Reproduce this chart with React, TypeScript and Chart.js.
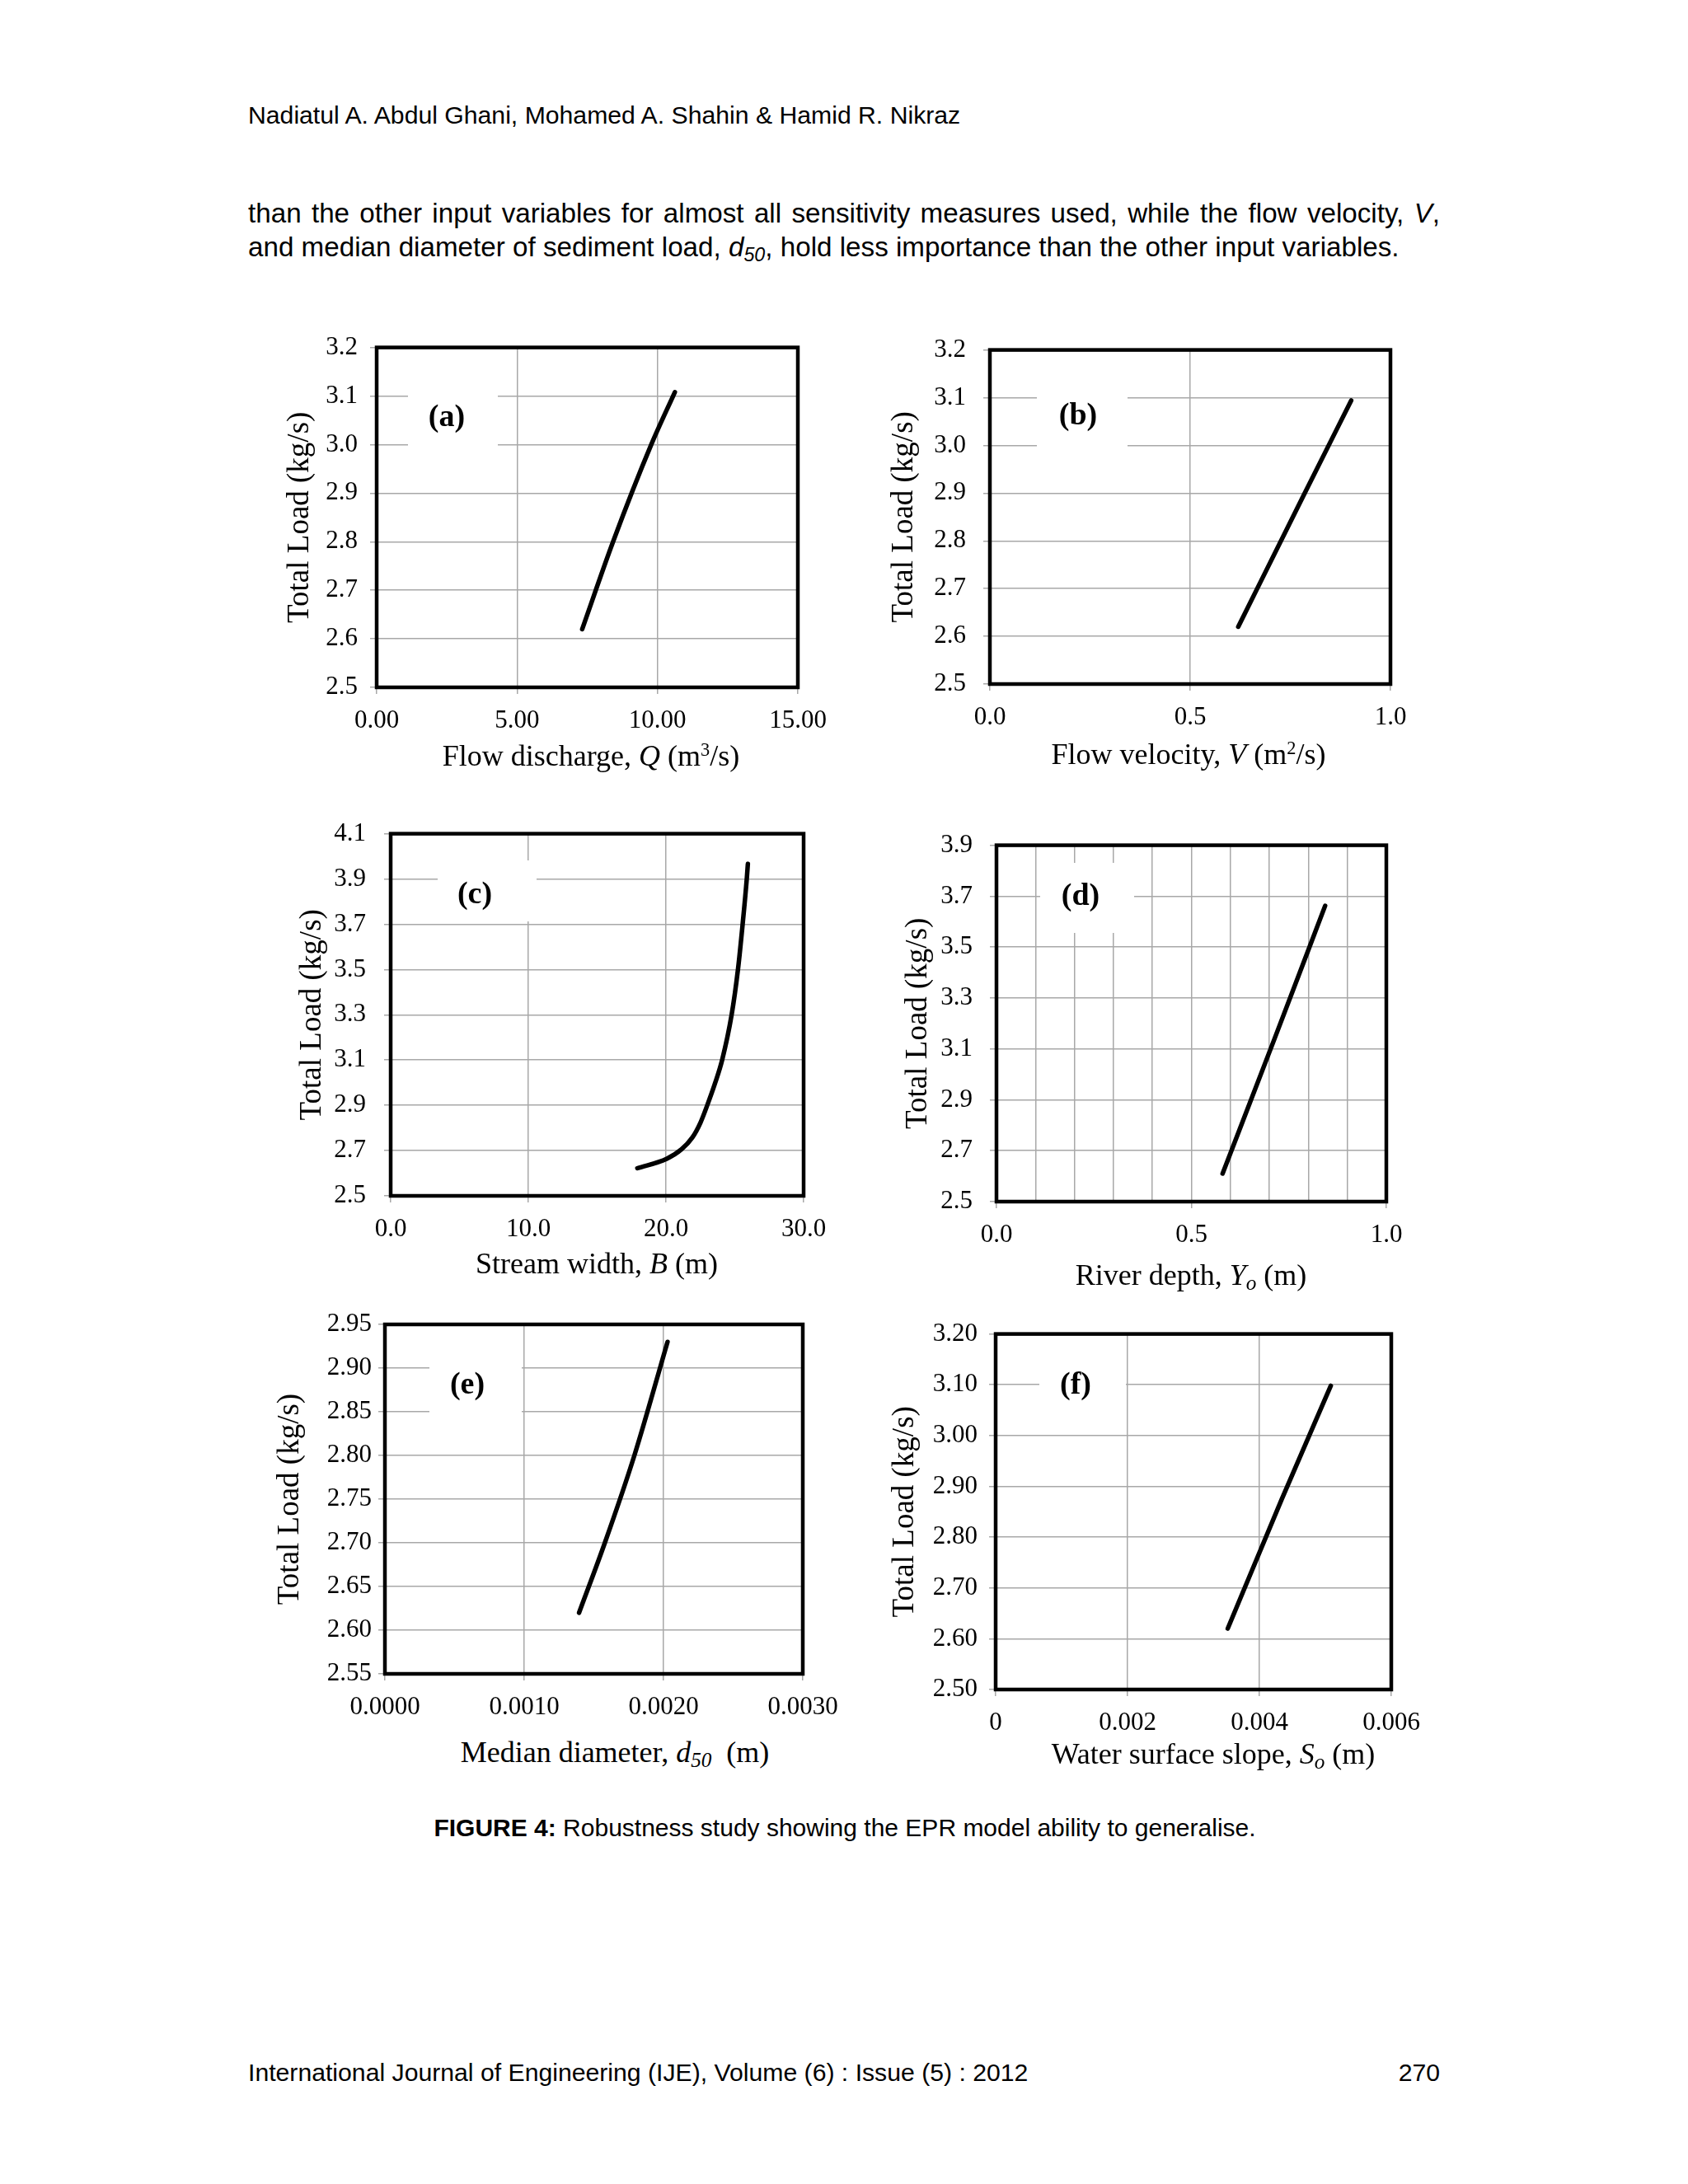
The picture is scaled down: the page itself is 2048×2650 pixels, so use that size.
import React, { useEffect, useRef } from "react";
import { Chart, registerables } from "chart.js";

Chart.register(...registerables);

// ---------- data ----------
// (a) Flow discharge Q (m3/s) vs Total load
const dischargeQ = [7.32, 8.42, 9.78, 10.62];
const loadA = [2.62, 2.8, 3.0, 3.108];
// (b) Flow velocity V
const velocityV = [0.62, 0.783, 0.902];
const loadB = [2.62, 2.895, 3.094];
// (c) Stream width B
const widthB = [17.92, 20.06, 21.12, 21.92, 22.51, 23.01, 23.58, 24.08, 24.77, 25.23, 25.57, 25.87, 25.95];
const loadC = [2.622, 2.664, 2.705, 2.758, 2.824, 2.902, 3.0, 3.1, 3.3, 3.5, 3.7, 3.9, 3.967];
// (d) River depth Yo
const depthYo = [0.58, 0.712, 0.843];
const loadD = [2.61, 3.135, 3.662];
// (e) Median diameter d50
const diameterD50 = [0.001394, 0.001579, 0.001791, 0.002029];
const loadE = [2.62, 2.7, 2.8, 2.93];
// (f) Water surface slope So
const slopeSo = [0.00352, 0.00434, 0.005083];
const loadF = [2.62, 2.875, 3.098];

// ---------- ticks ----------
const xTicksA = [0, 5, 10, 15];
const xLabelsA = ["0.00", "5.00", "10.00", "15.00"];
const yTicksA = [2.5, 2.6, 2.7, 2.8, 2.9, 3.0, 3.1, 3.2];
const yLabelsA = ["2.5", "2.6", "2.7", "2.8", "2.9", "3.0", "3.1", "3.2"];

const xTicksB = [0, 0.5, 1.0];
const xLabelsB = ["0.0", "0.5", "1.0"];
const yTicksB = [2.5, 2.6, 2.7, 2.8, 2.9, 3.0, 3.1, 3.2];
const yLabelsB = ["2.5", "2.6", "2.7", "2.8", "2.9", "3.0", "3.1", "3.2"];

const xTicksC = [0, 10, 20, 30];
const xLabelsC = ["0.0", "10.0", "20.0", "30.0"];
const yTicksC = [2.5, 2.7, 2.9, 3.1, 3.3, 3.5, 3.7, 3.9, 4.1];
const yLabelsC = ["2.5", "2.7", "2.9", "3.1", "3.3", "3.5", "3.7", "3.9", "4.1"];

const xTicksD = [0, 0.1, 0.2, 0.3, 0.4, 0.5, 0.6, 0.7, 0.8, 0.9, 1.0];
const xLabelsD = ["0.0", "", "", "", "", "0.5", "", "", "", "", "1.0"];
const yTicksD = [2.5, 2.7, 2.9, 3.1, 3.3, 3.5, 3.7, 3.9];
const yLabelsD = ["2.5", "2.7", "2.9", "3.1", "3.3", "3.5", "3.7", "3.9"];

const xTicksE = [0, 0.001, 0.002, 0.003];
const xLabelsE = ["0.0000", "0.0010", "0.0020", "0.0030"];
const yTicksE = [2.55, 2.6, 2.65, 2.7, 2.75, 2.8, 2.85, 2.9, 2.95];
const yLabelsE = ["2.55", "2.60", "2.65", "2.70", "2.75", "2.80", "2.85", "2.90", "2.95"];

const xTicksF = [0, 0.002, 0.004, 0.006];
const xLabelsF = ["0", "0.002", "0.004", "0.006"];
const yTicksF = [2.5, 2.6, 2.7, 2.8, 2.9, 3.0, 3.1, 3.2];
const yLabelsF = ["2.50", "2.60", "2.70", "2.80", "2.90", "3.00", "3.10", "3.20"];

const Y_TITLE = "Total Load (kg/s)";

const SERIF = "'Liberation Serif', 'Times New Roman', serif";
const SANS = "'Liberation Sans', Arial, sans-serif";
const GRID = "#a8a8a8";

type PanelSpec = {
  tag: string;
  xs: number[];
  ys: number[];
  xTicks: number[];
  xLabels: string[];
  yTicks: number[];
  yLabels: string[];
  plot: [number, number, number, number]; // left, top, right, bottom (page px)
  yLabelGap: number;
  yTitleOffset: number;
  labelCenter: [number, number];
  labelBox: [number, number, number, number];
  xTitle: React.ReactNode;
  xTitleCenter: [number, number];
};

const Y_AXIS_W = 160;
const X_AXIS_H = 70;
const PAD_TOP = 30;
const PAD_RIGHT = 70;
const TICK_FONT = 31;
const YTITLE_FONT = 37;

const framePlugin = {
  id: "frame",
  afterDatasetsDraw(chart: any) {
    const { ctx, chartArea } = chart;
    const { left, top, right, bottom } = chartArea;
    ctx.save();
    ctx.strokeStyle = "#000";
    ctx.lineWidth = 4.5;
    ctx.strokeRect(left, top, right - left, bottom - top);
    ctx.restore();
  },
};

function Panel({ spec }: { spec: PanelSpec }) {
  const ref = useRef<HTMLCanvasElement | null>(null);
  const [l, t, r, b] = spec.plot;
  const cw = Y_AXIS_W + (r - l) + PAD_RIGHT;
  const ch = PAD_TOP + (b - t) + X_AXIS_H;
  const xMin = spec.xTicks[0];
  const xMax = spec.xTicks[spec.xTicks.length - 1];
  const yMin = spec.yTicks[0];
  const yMax = spec.yTicks[spec.yTicks.length - 1];

  useEffect(() => {
    if (!ref.current) return;
    const lineH = YTITLE_FONT * 1.2;
    const chart = new Chart(ref.current, {
      type: "line",
      data: {
        datasets: [
          {
            data: spec.xs.map((x, i) => ({ x, y: spec.ys[i] })),
            borderColor: "#000",
            borderWidth: 5.5,
            pointRadius: 0,
            cubicInterpolationMode: "monotone",
            borderCapStyle: "round",
            borderJoinStyle: "round",
            fill: false,
          },
        ],
      },
      options: {
        animation: false,
        responsive: false,
        maintainAspectRatio: false,
        layout: { padding: { left: 0, top: PAD_TOP, right: PAD_RIGHT, bottom: 0 } },
        plugins: {
          legend: { display: false },
          tooltip: { enabled: false },
        },
        scales: {
          x: {
            type: "linear",
            min: xMin,
            max: xMax,
            afterBuildTicks: (s: any) => {
              s.ticks = spec.xTicks.map((v) => ({ value: v }));
            },
            afterFit: (s: any) => {
              s.height = X_AXIS_H;
            },
            ticks: {
              autoSkip: false,
              maxRotation: 0,
              padding: 14,
              color: "#000",
              font: { family: SERIF, size: TICK_FONT },
              callback: (_v: any, i: number) => spec.xLabels[i],
            },
            grid: {
              color: GRID,
              lineWidth: 1.5,
              drawTicks: true,
              tickLength: 8,
              tickColor: (c: any) => (spec.xLabels[c.index] ? GRID : "rgba(0,0,0,0)"),
            },
            border: { display: false },
          },
          y: {
            type: "linear",
            min: yMin,
            max: yMax,
            afterBuildTicks: (s: any) => {
              s.ticks = spec.yTicks.map((v) => ({ value: v }));
            },
            afterFit: (s: any) => {
              s.width = Y_AXIS_W;
            },
            ticks: {
              autoSkip: false,
              padding: spec.yLabelGap - 8,
              color: "#000",
              font: { family: SERIF, size: TICK_FONT },
              callback: (_v: any, i: number) => spec.yLabels[i],
            },
            grid: {
              color: GRID,
              lineWidth: 1.5,
              drawTicks: true,
              tickLength: 8,
            },
            border: { display: false },
            title: {
              display: true,
              text: Y_TITLE,
              color: "#000",
              font: { family: SERIF, size: YTITLE_FONT, lineHeight: 1.2 },
              padding: { top: Y_AXIS_W - spec.yTitleOffset - lineH / 2, bottom: 0 },
            },
          },
        },
      } as any,
      plugins: [framePlugin],
    });
    return () => chart.destroy();
  }, [spec]);

  const [bl, bt, br, bb] = spec.labelBox;
  const [lcx, lcy] = spec.labelCenter;
  const [tcx, tcy] = spec.xTitleCenter;
  return (
    <>
      <canvas
        ref={ref}
        width={cw}
        height={ch}
        style={{ position: "absolute", left: l - Y_AXIS_W, top: t - PAD_TOP, width: cw, height: ch }}
      />
      <div
        style={{
          position: "absolute",
          left: bl,
          top: bt,
          width: br - bl,
          height: bb - bt,
          background: "#fff",
        }}
      />
      <div
        style={{
          position: "absolute",
          left: lcx - 60,
          width: 120,
          top: lcy - 24,
          textAlign: "center",
          fontFamily: SERIF,
          fontWeight: "bold",
          fontSize: 38,
          lineHeight: "45px",
          color: "#000",
        }}
      >
        {spec.tag}
      </div>
      <div
        style={{
          position: "absolute",
          left: tcx - 400,
          width: 800,
          top: tcy - 22,
          textAlign: "center",
          fontFamily: SERIF,
          fontSize: 36,
          lineHeight: "43px",
          whiteSpace: "nowrap",
          color: "#000",
        }}
      >
        {spec.xTitle}
      </div>
    </>
  );
}

const supStyle: React.CSSProperties = { fontSize: "0.62em", verticalAlign: "0.55em", lineHeight: 0 };
const subStyle: React.CSSProperties = { fontSize: "0.7em", verticalAlign: "-0.25em", lineHeight: 0 };

const panels: PanelSpec[] = [
  {
    tag: "(a)",
    xs: dischargeQ,
    ys: loadA,
    xTicks: xTicksA,
    xLabels: xLabelsA,
    yTicks: yTicksA,
    yLabels: yLabelsA,
    plot: [457, 418, 968, 834],
    yLabelGap: 23,
    yTitleOffset: 93,
    labelCenter: [542, 506],
    labelBox: [495, 462, 604, 552],
    xTitle: (
      <>
        Flow discharge, <i>Q</i> (m<sup style={supStyle}>3</sup>/s)
      </>
    ),
    xTitleCenter: [717, 918],
  },
  {
    tag: "(b)",
    xs: velocityV,
    ys: loadB,
    xTicks: xTicksB,
    xLabels: xLabelsB,
    yTicks: yTicksB,
    yLabels: yLabelsB,
    plot: [1201, 415, 1687, 830],
    yLabelGap: 29,
    yTitleOffset: 104,
    labelCenter: [1308, 504],
    labelBox: [1258, 460, 1368, 552],
    xTitle: (
      <>
        Flow velocity, <i>V</i> (m<sup style={supStyle}>2</sup>/s)
      </>
    ),
    xTitleCenter: [1442, 916],
  },
  {
    tag: "(c)",
    xs: widthB,
    ys: loadC,
    xTicks: xTicksC,
    xLabels: xLabelsC,
    yTicks: yTicksC,
    yLabels: yLabelsC,
    plot: [474, 1001, 975, 1451],
    yLabelGap: 30,
    yTitleOffset: 95,
    labelCenter: [576, 1085],
    labelBox: [531, 1044, 651, 1118],
    xTitle: (
      <>
        Stream width, <i>B</i> (m)
      </>
    ),
    xTitleCenter: [724, 1534],
  },
  {
    tag: "(d)",
    xs: depthYo,
    ys: loadD,
    xTicks: xTicksD,
    xLabels: xLabelsD,
    yTicks: yTicksD,
    yLabels: yLabelsD,
    plot: [1209, 1016, 1682, 1458],
    yLabelGap: 29,
    yTitleOffset: 95,
    labelCenter: [1311, 1087],
    labelBox: [1262, 1047, 1376, 1132],
    xTitle: (
      <>
        River depth, <i>Y</i>
        <sub style={subStyle}>
          <i>o</i>
        </sub>{" "}
        (m)
      </>
    ),
    xTitleCenter: [1445, 1548],
  },
  {
    tag: "(e)",
    xs: diameterD50,
    ys: loadE,
    xTicks: xTicksE,
    xLabels: xLabelsE,
    yTicks: yTicksE,
    yLabels: yLabelsE,
    plot: [467, 1607, 974, 2031],
    yLabelGap: 16,
    yTitleOffset: 115,
    labelCenter: [567, 1680],
    labelBox: [521, 1642, 633, 1730],
    xTitle: (
      <>
        Median diameter, <i>d</i>
        <sub style={subStyle}>
          <i>50</i>
        </sub>
        {"\u00a0 (m)"}
      </>
    ),
    xTitleCenter: [746, 2127],
  },
  {
    tag: "(f)",
    xs: slopeSo,
    ys: loadF,
    xTicks: xTicksF,
    xLabels: xLabelsF,
    yTicks: yTicksF,
    yLabels: yLabelsF,
    plot: [1208, 1616, 1688, 2050],
    yLabelGap: 22,
    yTitleOffset: 110,
    labelCenter: [1305, 1680],
    labelBox: [1261, 1645, 1366, 1720],
    xTitle: (
      <>
        Water surface slope, <i>S</i>
        <sub style={subStyle}>
          <i>o</i>
        </sub>{" "}
        (m)
      </>
    ),
    xTitleCenter: [1472, 2129],
  },
];

export default function App() {
  useEffect(() => {
    document.body.style.margin = "0";
    document.body.style.background = "#fff";
  }, []);

  const textBase: React.CSSProperties = {
    position: "absolute",
    fontFamily: SANS,
    color: "#000",
    whiteSpace: "nowrap",
  };

  return (
    <div style={{ position: "relative", width: 2048, height: 2650, background: "#fff", overflow: "hidden" }}>
      <div style={{ ...textBase, left: 301, top: 122, fontSize: 30.2, lineHeight: "36px" }}>
        Nadiatul A. Abdul Ghani, Mohamed A. Shahin {"&"} Hamid R. Nikraz
      </div>

      <div
        style={{
          ...textBase,
          left: 301,
          top: 239,
          width: 1446,
          fontSize: 33.2,
          lineHeight: "40.5px",
          textAlign: "justify",
          textAlignLast: "justify" as any,
        }}
      >
        than the other input variables for almost all sensitivity measures used, while the flow velocity, <i>V</i>,
      </div>
      <div style={{ ...textBase, left: 301, top: 279.5, fontSize: 33.2, lineHeight: "40.5px" }}>
        and median diameter of sediment load,{" "}
        <i>
          d<sub style={subStyle}>50</sub>
        </i>
        , hold less importance than the other input variables.
      </div>

      {panels.map((p) => (
        <Panel key={p.tag} spec={p} />
      ))}

      <div style={{ ...textBase, left: 0, width: 2050, top: 2200, fontSize: 30, lineHeight: "36px", textAlign: "center" }}>
        <b>FIGURE 4:</b> Robustness study showing the EPR model ability to generalise.
      </div>

      <div style={{ ...textBase, left: 301, top: 2497, fontSize: 30.2, lineHeight: "36px" }}>
        International Journal of Engineering (IJE), Volume (6) : Issue (5) : 2012
      </div>
      <div style={{ ...textBase, left: 1447, width: 300, top: 2497, fontSize: 30.2, lineHeight: "36px", textAlign: "right" }}>
        270
      </div>
    </div>
  );
}
